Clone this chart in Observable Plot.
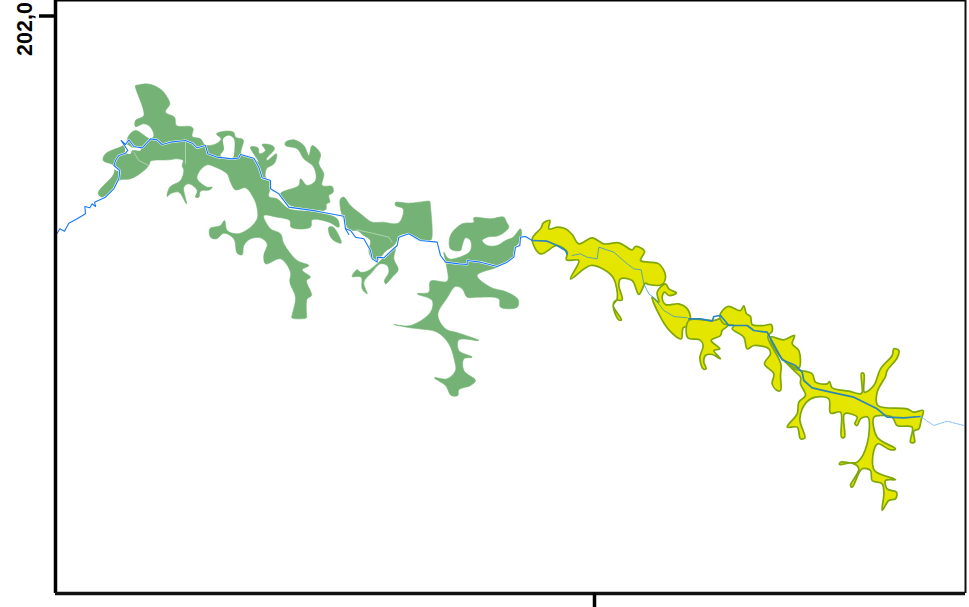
<!DOCTYPE html>
<html>
<head>
<meta charset="utf-8">
<script src="https://cdn.jsdelivr.net/npm/d3@7"></script>
<script src="https://cdn.jsdelivr.net/npm/@observablehq/plot@0.6"></script>
<style>html,body{margin:0;padding:0;background:#fff;overflow:hidden}svg{display:block}</style>
</head>
<body>
<div id="chart"></div>
<script>
// Outlines, on four traced sheets (1/3 map unit per sheet unit)
const sheets = {west:[50,70], mid:[330,180], yellowWest:[520,210], yellowEast:[640,280]};

const greenMain = [[255,45],[262,44],[285,40],[310,45],[335,60],[350,80],[358,100],[345,125],[372,140],[378,165],[420,168],[428,175],[425,198],[450,205],[462,222],[475,225],[500,218],[512,205],[498,190],[525,182],[550,186],[555,200],[578,208],[572,250],[600,258],[625,275],[600,230],[622,232],[627,250],[645,240],[635,222],[665,225],[672,235],[648,265],[650,270],[678,250],[672,278],[648,295],[645,320],[660,335],[660,350],[655,378],[680,385],[715,415],[800,425],[860,445],[865,470],[835,455],[785,448],[780,470],[722,470],[718,450],[680,440],[640,435],[660,475],[690,490],[700,520],[740,570],[775,585],[755,598],[780,620],[768,630],[783,675],[770,685],[768,735],[768,742],[745,745],[724,742],[726,730],[735,680],[718,635],[720,605],[690,565],[645,580],[640,555],[650,520],[630,502],[600,505],[580,525],[575,553],[560,548],[550,505],[520,488],[498,505],[480,500],[478,475],[510,465],[522,450],[530,480],[560,490],[590,478],[620,445],[618,405],[605,375],[585,352],[555,358],[540,335],[530,310],[495,290],[470,283],[445,305],[440,325],[470,350],[485,350],[478,358],[450,362],[445,380],[435,380],[440,360],[415,340],[400,350],[408,400],[385,365],[360,370],[350,378],[358,350],[390,330],[400,300],[395,285],[398,270],[380,265],[355,268],[300,272],[295,285],[265,312],[240,325],[205,330],[190,355],[155,380],[143,368],[190,310],[190,285],[158,270],[165,250],[225,220],[235,195],[255,180],[300,205],[310,195],[300,170],[280,160],[255,168],[255,150],[280,135]];
const greenNorthEast = [[705,215],[730,208],[760,225],[775,255],[785,225],[810,250],[805,280],[820,310],[815,345],[845,348],[848,365],[835,375],[838,395],[828,400],[825,418],[720,405],[690,370],[745,345],[750,325],[770,345],[795,330],[790,290],[760,265],[740,235],[705,225]];
const greenIsle = [[835,470],[848,470],[865,495],[872,518],[850,510],[838,495]];
const greenCentre = [[30,55],[40,50],[60,75],[90,100],[125,125],[155,125],[205,127],[218,85],[195,75],[195,66],[235,68],[290,62],[297,62],[300,80],[305,145],[304,172],[300,180],[265,180],[235,162],[212,163],[190,195],[165,212],[140,240],[125,235],[115,212],[120,180],[100,165],[80,150],[60,150],[45,130],[30,85]];
const greenCentreSouth = [[65,288],[80,268],[90,275],[110,272],[145,245],[175,215],[195,200],[190,235],[203,268],[185,290],[165,310],[162,300],[175,275],[170,255],[150,250],[120,280],[100,305],[110,340],[95,325],[92,290]];
const greenSouth = [[360,165],[395,130],[430,125],[430,112],[480,115],[520,110],[528,125],[535,140],[505,165],[470,170],[455,180],[470,195],[500,195],[525,180],[548,170],[570,145],[572,175],[552,205],[548,232],[505,258],[440,285],[480,320],[530,335],[563,358],[560,380],[510,380],[505,355],[440,350],[410,350],[395,325],[375,318],[350,352],[322,403],[345,445],[385,458],[445,480],[385,478],[385,510],[425,530],[400,535],[400,570],[435,600],[420,615],[385,628],[382,645],[362,645],[345,615],[312,592],[350,595],[375,570],[372,540],[355,490],[320,455],[265,445],[240,442],[190,432],[240,435],[300,395],[305,360],[260,340],[295,335],[300,302],[350,302],[348,255],[340,215],[355,235],[400,225],[420,210],[420,180],[405,172],[395,195],[390,210],[360,205]];

const holeHook = [[518,205],[535,195],[550,205],[552,235],[546,262],[510,255],[520,238]];
const holeWest = [[228,222],[248,232],[272,232],[270,240],[245,240],[240,250],[225,245]];
const holeWest2 = [[190,285],[208,297],[205,302],[192,296]];
const seamWest = [[405,215],[405,280]];
const seamWest2 = [[250,245],[265,270],[295,285]];
const seamCentre = [[80,148],[125,158],[175,170],[185,185]];

const yellowA = [[35,85],[62,52],[68,38],[88,30],[85,55],[112,50],[135,55],[155,72],[175,100],[215,82],[250,100],[295,97],[335,118],[345,108],[372,122],[360,150],[385,155],[415,160],[435,195],[425,222],[385,222],[375,218],[355,252],[335,210],[300,205],[295,225],[305,268],[285,270],[278,285],[303,328],[295,328],[278,285],[290,265],[280,205],[255,180],[210,165],[150,205],[175,150],[138,148],[140,125],[110,105],[60,130]];
const yellowB = [[395,260],[415,275],[410,245],[435,220],[445,235],[468,248],[445,255],[432,245],[425,260],[435,282],[475,280],[498,292],[510,325],[503,345],[488,352],[482,385],[445,358],[420,320]];
const yellowC = [[145,120],[220,120],[258,110],[262,135],[245,150],[240,165],[212,180],[238,205],[220,210],[240,235],[215,222],[195,225],[190,245],[197,265],[188,265],[178,232],[188,195],[178,178],[142,172]];
const yellowD = [[238,105],[262,78],[300,90],[310,76],[318,100],[330,108],[335,132],[370,135],[392,132],[395,152],[382,168],[415,235],[422,255],[420,285],[420,330],[410,330],[395,310],[400,280],[372,250],[390,220],[385,205],[340,195],[320,205],[310,170],[275,145],[280,135],[250,130]];
const yellowE = [[390,170],[430,178],[462,165],[455,190],[475,210],[475,262],[425,235]];
const yellowF = [[430,240],[460,265],[480,270],[515,280],[525,305],[560,310],[567,303],[575,322],[625,332],[660,340],[665,335],[663,278],[670,280],[672,335],[700,315],[720,265],[755,225],[760,205],[775,210],[770,232],[740,270],[735,288],[710,335],[712,375],[800,385],[820,395],[848,390],[842,418],[835,445],[820,452],[822,485],[810,485],[815,440],[770,435],[755,410],[720,405],[700,410],[710,470],[765,505],[750,508],[712,490],[700,510],[702,570],[765,597],[735,600],[740,625],[768,635],[765,655],[745,660],[725,690],[730,640],[725,610],[695,600],[690,570],[665,565],[635,620],[630,615],[655,565],[635,548],[597,552],[600,545],[650,545],[680,490],[682,410],[660,415],[650,435],[643,430],[650,410],[612,400],[612,470],[603,470],[600,395],[570,398],[565,355],[525,350],[498,365],[478,415],[493,472],[480,475],[470,440],[440,440],[470,400],[475,365],[495,345],[480,310],[480,290],[460,270]];

const riverWest = [[20,488],[28,475],[42,482],[55,458],[80,445],[105,430],[103,408],[118,412],[125,400],[135,408],[132,395],[165,380],[190,355],[205,325],[208,300],[190,285],[195,270],[205,255],[225,248],[232,240],[212,210],[225,222],[235,208],[250,228],[275,232],[300,205],[320,208],[335,222],[360,215],[405,210],[425,218],[440,232],[465,225],[472,250],[500,260],[545,265],[565,262],[570,252],[610,263],[625,290],[635,322],[660,330],[660,355],[685,370],[715,410],[800,422],[880,437],[885,475],[895,492]];
const riverMid = [[45,145],[60,150],[75,170],[100,175],[120,210],[125,235],[140,245],[140,230],[160,232],[200,195],[205,170],[235,160],[270,180],[320,185],[330,225],[345,245],[385,250],[410,252],[410,240],[450,245],[500,258],[530,245],[550,230],[555,200],[568,195],[570,170],[585,168],[605,180]];
const riverYellowWest = [[35,90],[80,92],[110,105],[135,120],[140,130]];
const riverYellowThin = [[155,135],[180,130],[200,140],[230,145],[235,110],[280,125],[320,160],[340,175],[362,178],[370,220],[385,250],[400,262],[430,300],[460,318],[500,322]];
const riverYellowEast = [[145,115],[180,115],[215,122],[220,108],[240,105],[265,135],[320,135],[340,150],[380,155],[425,238],[465,255],[485,275],[490,300],[515,322],[570,335],[640,350],[710,385],[740,410],[790,412],[840,408]];
const riverTail = [[840,408],[880,435],[920,422],[970,435]];

const frameX = [55, 965];
const frameY = [0, 593];
const yTick = [15.5];
const yTickLabels = ["202,0"];
const xTick = [594];

const table = (id, pts, sheet) => pts.map(([x, y]) => ({id, x: sheets[sheet][0] + x / 3, y: sheets[sheet][1] + y / 3}));
const group = (list) => list.flatMap(([id, pts, sheet]) => table(id, pts, sheet));

const green = group([["a",greenMain,"west"],["b",greenNorthEast,"west"],["c",greenIsle,"west"],["d",greenCentre,"mid"],["e",greenCentreSouth,"mid"],["f",greenSouth,"mid"]]);
const holes = group([["a",holeHook,"west"],["b",holeWest,"west"],["c",holeWest2,"west"]]);
const seams = group([["a",seamWest,"west"],["b",seamWest2,"west"],["c",seamCentre,"mid"]]);
const yellow = group([["a",yellowA,"yellowWest"],["b",yellowB,"yellowWest"],["c",yellowC,"yellowEast"],["d",yellowD,"yellowEast"],["e",yellowE,"yellowEast"],["f",yellowF,"yellowEast"]]);
const riverGreen = group([["a",riverWest,"west"],["b",riverMid,"mid"]]);
const riverDark = group([["a",riverYellowWest,"yellowWest"],["b",riverYellowEast,"yellowEast"]]);
const riverThin = group([["a",riverYellowThin,"yellowWest"]]);
const riverEnd = group([["a",riverTail,"yellowEast"]]);

const line = {x:"x", y:"y", z:"id"};
const smooth = "catmull-rom-closed";
const chart = Plot.plot({
  width: 969, height: 607,
  marginLeft: 55, marginRight: 4, marginTop: 0, marginBottom: 14,
  x: {domain: frameX, axis: null},
  y: {domain: [frameY[1], frameY[0]], axis: null},
  clip: false,
  style: {background: "#fff", overflow: "visible"},
  marks: [
    Plot.line(green, {...line, fill:"#74b375", stroke:"#74b375", strokeWidth:0.6, curve:smooth}),
    Plot.line(holes, {...line, fill:"#fff", stroke:"none", curve:smooth}),
    Plot.line(seams, {...line, stroke:"#fff", strokeOpacity:0.6, strokeWidth:0.7}),
    Plot.line(riverGreen, {...line, stroke:"#fff", strokeWidth:2.2}),
    Plot.line(yellow, {...line, fill:"#e5e600", stroke:"#7fa60a", strokeWidth:1.7, curve:smooth}),
    Plot.line(riverGreen, {...line, stroke:"#1577f5", strokeWidth:1.1}),
    Plot.line(riverThin, {...line, stroke:"#3b97cf", strokeWidth:0.8}),
    Plot.line(riverDark, {...line, stroke:"#2a86b8", strokeWidth:1.7}),
    Plot.line(riverEnd, {...line, stroke:"#7ab8f5", strokeWidth:0.9, strokeDasharray:"3 1"}),
    Plot.ruleX([frameX[0]], {stroke:"#000", strokeWidth:3.5}),
    Plot.ruleX([frameX[1]], {stroke:"#111", strokeWidth:2}),
    Plot.ruleY([frameY[0]], {stroke:"#000", strokeWidth:2}),
    Plot.ruleY([frameY[1]], {stroke:"#111", strokeWidth:3.5}),
    Plot.axisY({anchor:"left", ticks:yTick, tickFormat:(d, i) => yTickLabels[i], tickSize:0, tickPadding:24, tickRotate:-90, fill:"#000", fontSize:21.5, fontWeight:"bold", fontFamily:"Liberation Sans", dy:13, label:null}),
    Plot.axisY({anchor:"left", ticks:yTick, tickFormat:() => "", tickSize:16, strokeWidth:3.5, stroke:"#000", label:null}),
    Plot.axisX({anchor:"bottom", ticks:xTick, tickFormat:() => "", tickSize:14, strokeWidth:3.5, stroke:"#000", label:null})
  ]
});
document.getElementById("chart").appendChild(chart);
</script>
</body>
</html>
